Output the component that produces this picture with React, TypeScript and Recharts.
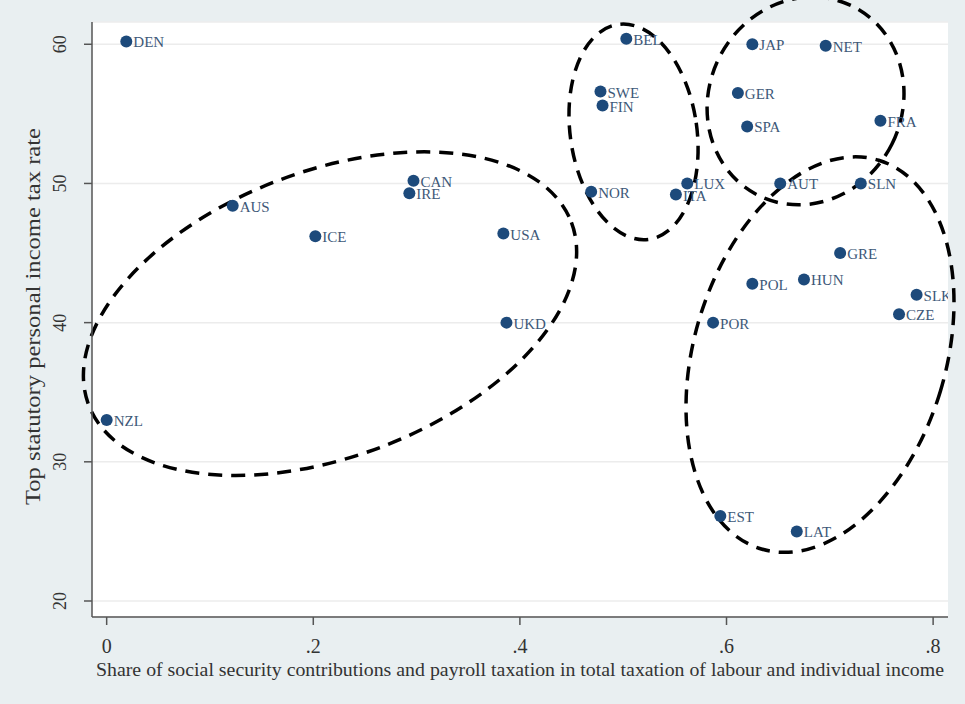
import { ScatterChart, Scatter, XAxis, YAxis, CartesianGrid, ReferenceArea, Label } from 'recharts';

const countries = [
  'DEN', 'BEL', 'JAP', 'NET', 'SWE', 'FIN', 'GER', 'SPA', 'FRA', 'NOR',
  'LUX', 'ITA', 'AUT', 'SLN', 'GRE', 'POL', 'HUN', 'SLK', 'CZE', 'POR',
  'EST', 'LAT', 'AUS', 'ICE', 'CAN', 'IRE', 'USA', 'UKD', 'NZL',
];
const socialShare = [
  0.019, 0.503, 0.625, 0.696, 0.478, 0.480, 0.611, 0.620, 0.749, 0.469,
  0.562, 0.551, 0.652, 0.730, 0.710, 0.625, 0.675, 0.784, 0.767, 0.587,
  0.594, 0.668, 0.122, 0.202, 0.297, 0.293, 0.384, 0.387, 0.0,
];
const topRate = [
  60.2, 60.4, 60.0, 59.9, 56.6, 55.6, 56.5, 54.1, 54.5, 49.4,
  50.0, 49.2, 50.0, 50.0, 45.0, 42.8, 43.1, 42.0, 40.6, 40.0,
  26.1, 25.0, 48.4, 46.2, 50.2, 49.3, 46.4, 40.0, 33.0,
];

const xTicks = [0, 0.2, 0.4, 0.6, 0.8];
const yTicks = [20, 30, 40, 50, 60];

// hand-drawn cluster outlines: unrotated ellipse box in data units, plus tilt on screen (deg)
const clusterX1 = [-0.0336, 0.4487, 0.583, 0.5687];
const clusterX2 = [0.466, 0.5713, 0.77, 0.8123];
const clusterY1 = [30.38, 45.906, 48.339, 23.114];
const clusterY2 = [50.91, 61.506, 63.523, 52.292];
const clusterTilt = [-20.7, -8.2, 26.5, 16.8];

const points = countries.map((name, i) => ({ name, x: socialShare[i], y: topRate[i] }));

const SERIF = '"Liberation Serif", "DejaVu Serif", serif';

function CountryDot(props: any) {
  const { cx, cy, payload } = props;
  if (cx == null || cy == null) return null;
  return (
    <g>
      <circle cx={cx} cy={cy} r={6} fill="#1d4a7b" />
      <text x={cx + 7} y={cy + 6} fontSize={15} fontFamily={SERIF} fill="#3d5878">
        {payload.name}
      </text>
    </g>
  );
}

function ClusterEllipse(props: any) {
  const { x, y, width, height, tilt } = props;
  if (x == null) return null;
  const cx = x + width / 2;
  const cy = y + height / 2;
  return (
    <ellipse
      cx={cx}
      cy={cy}
      rx={width / 2}
      ry={height / 2}
      transform={`rotate(${tilt} ${cx} ${cy})`}
      fill="none"
      stroke="#000"
      strokeWidth={3.5}
      strokeDasharray="14 9"
    />
  );
}

function YTick(props: any) {
  const { x, y, payload } = props;
  const tx = x - 22;
  return (
    <text
      x={tx}
      y={y}
      transform={`rotate(-90 ${tx} ${y})`}
      textAnchor="middle"
      dominantBaseline="central"
      fontSize={18}
      fontFamily={SERIF}
      fill="#333"
    >
      {payload.value}
    </text>
  );
}

function XTick(props: any) {
  const { x, y, payload } = props;
  const label = payload.value === 0 ? '0' : String(payload.value).replace(/^0/, '');
  return (
    <text x={x} y={y + 26} textAnchor="middle" fontSize={20} fontFamily={SERIF} fill="#333">
      {label}
    </text>
  );
}

function XTitle(props: any) {
  const vb = props.viewBox;
  const cx = vb.x + vb.width / 2;
  return (
    <text
      x={cx}
      y={vb.y + 59}
      textAnchor="middle"
      fontSize={19}
      fontFamily={SERIF}
      fill="#333"
      textLength={848}
      lengthAdjust="spacingAndGlyphs"
    >
      Share of social security contributions and payroll taxation in total taxation of labour and individual income
    </text>
  );
}

function YTitle(props: any) {
  const vb = props.viewBox;
  const tx = vb.x + 40;
  const ty = vb.y + vb.height / 2 - 3;
  return (
    <text
      x={tx}
      y={ty}
      transform={`rotate(-90 ${tx} ${ty})`}
      textAnchor="middle"
      fontSize={20}
      fontFamily={SERIF}
      fill="#333"
      textLength={377}
      lengthAdjust="spacingAndGlyphs"
    >
      Top statutory personal income tax rate
    </text>
  );
}

export default function App() {
  return (
    <div style={{ position: 'absolute', left: 0, top: 0, width: 965, height: 704, background: '#e9eff1' }}>
      <ScatterChart width={965} height={704} margin={{ top: 22, right: 17, bottom: 27, left: 0 }}>
        <CartesianGrid vertical={false} stroke="#ececec" strokeWidth={1.5} fill="#ffffff" />
        <XAxis
          type="number"
          dataKey="x"
          domain={[-0.0142, 0.8144]}
          ticks={xTicks}
          height={60}
          tickSize={8}
          axisLine={{ stroke: '#555', strokeWidth: 1.5 }}
          tickLine={{ stroke: '#555', strokeWidth: 1.5 }}
          tick={<XTick />}
          allowDataOverflow
        >
          <Label content={<XTitle />} />
        </XAxis>
        <YAxis
          type="number"
          dataKey="y"
          domain={[18.85, 61.6]}
          ticks={yTicks}
          width={92}
          tickSize={8}
          axisLine={{ stroke: '#555', strokeWidth: 1.5 }}
          tickLine={{ stroke: '#555', strokeWidth: 1.5 }}
          tick={<YTick />}
          allowDataOverflow
        >
          <Label content={<YTitle />} />
        </YAxis>
        <Scatter data={points} isAnimationActive={false} shape={<CountryDot />} />
        {clusterTilt.map((tilt, i) => (
          <ReferenceArea
            key={i}
            x1={clusterX1[i]}
            x2={clusterX2[i]}
            y1={clusterY1[i]}
            y2={clusterY2[i]}
            ifOverflow="visible"
            shape={<ClusterEllipse tilt={tilt} />}
          />
        ))}
      </ScatterChart>
    </div>
  );
}
